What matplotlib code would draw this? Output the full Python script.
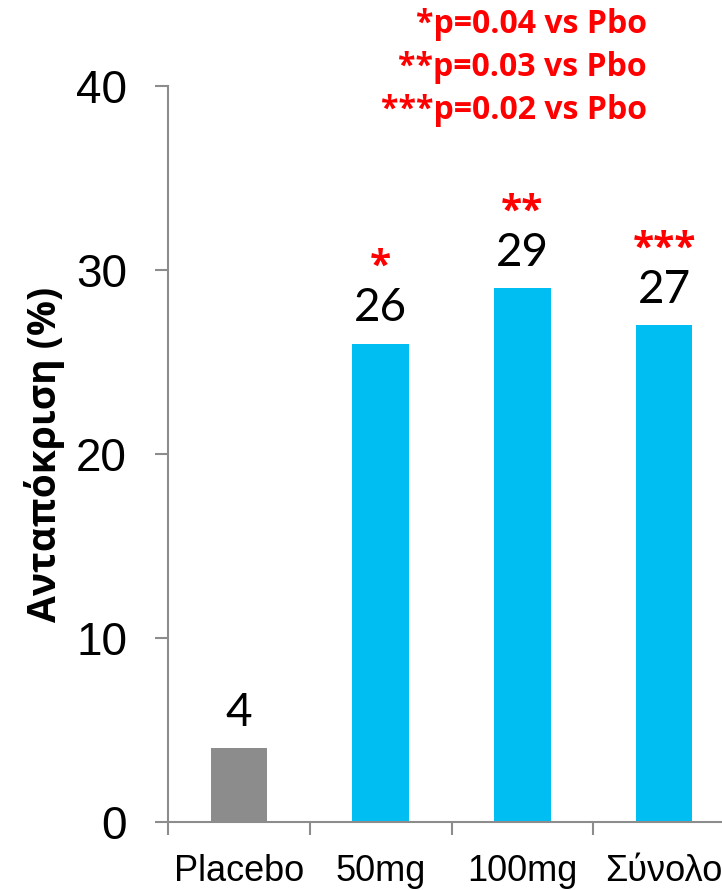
import matplotlib
matplotlib.use("Agg")
from matplotlib import pyplot as plt

categories = ["Placebo", "50mg", "100mg", "Σύνολο"]
values = [4, 26, 29, 27]
stars = ["", "*", "**", "***"]
bar_colors = ["#8c8c8c", "#00bef2", "#00bef2", "#00bef2"]
yticks = [0, 10, 20, 30, 40]
notes = ["*p=0.04 vs Pbo", "**p=0.03 vs Pbo", "***p=0.02 vs Pbo"]

axis_grey = "#8c8c8c"

fig = plt.figure(figsize=(7.22, 8.9), dpi=100)
ax = fig.add_axes([168/722, 68/890, 567/722, 736/890])

x = range(len(categories))
ax.bar(x, values, width=0.4, color=bar_colors, zorder=2)

ax.set_xlim(-0.5, len(categories) - 0.5)
ax.set_ylim(0, 40)

# category boundaries as major ticks, labels on minor ticks at bar centers
ax.set_xticks([i - 0.5 for i in range(len(categories) + 1)])
ax.set_xticklabels([])
ax.set_xticks(list(x), minor=True)
ax.set_xticklabels(categories, minor=True, family="Liberation Sans", fontsize=26)
ax.tick_params(axis="x", which="major", length=9.5, width=1.5, color=axis_grey, direction="out")
ax.tick_params(axis="x", which="minor", length=0, pad=23)

ax.set_yticks(yticks)
ax.set_yticklabels([str(t) for t in yticks], family="Liberation Sans", fontsize=33)
ax.tick_params(axis="y", length=9.5, width=1.5, color=axis_grey, pad=20)

for s in ["top", "right"]:
    ax.spines[s].set_visible(False)
for s in ["left", "bottom"]:
    ax.spines[s].set_color(axis_grey)
    ax.spines[s].set_linewidth(1.5)

ax.set_ylabel("Ανταπόκριση (%)", family="Open Sans", fontweight="bold", fontsize=28,
              va="center")
ax.yaxis.set_label_coords((45 - 168) / 567, 0.5)

for i, v in enumerate(values):
    ax.annotate(str(v), (i, v), xytext=(0, 16), textcoords="offset points",
                ha="center", va="baseline", family="Lato", fontsize=33)
    if stars[i]:
        ax.annotate(stars[i], (i, v), xytext=(0, 55), textcoords="offset points",
                    ha="center", va="center", family="Open Sans", fontweight="bold",
                    fontsize=28, color="#ff0000")

for k, line in enumerate(notes):
    fig.text(647/722, 1 - (33 + 43*k)/890, line, ha="right", va="baseline",
             family="Open Sans", fontweight="bold", fontsize=23, color="#ff0000")

fig.savefig("out.png", dpi=100)
